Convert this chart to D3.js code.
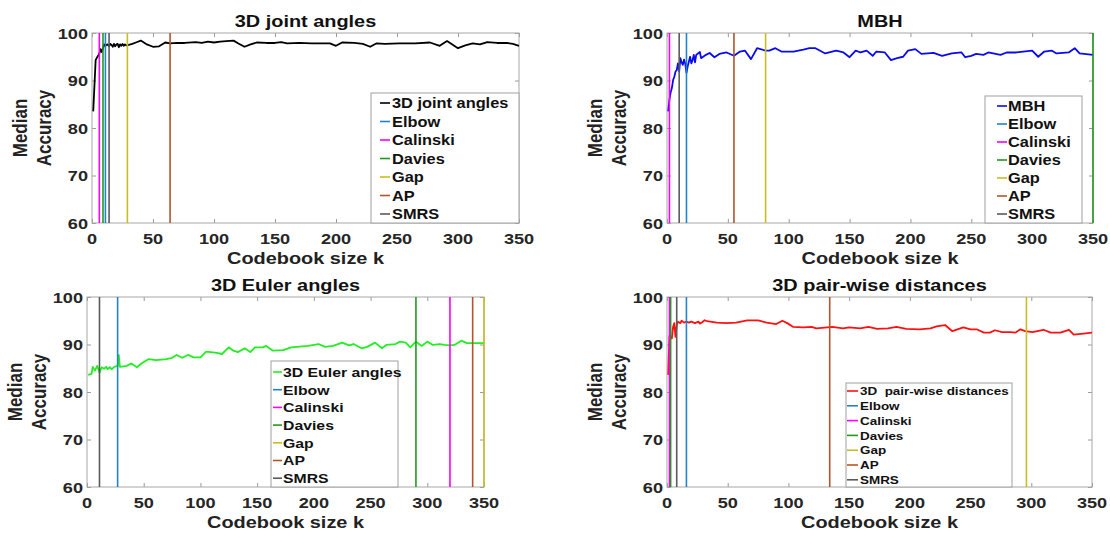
<!DOCTYPE html>
<html><head><meta charset="utf-8">
<script src="https://cdn.jsdelivr.net/npm/d3@7"></script>
<style>body{margin:0;background:#fff}svg{display:block}</style>
</head><body>
<svg id="c" width="1110" height="534"></svg>
<script>
// ---------------- data ----------------
const xTicks = [0, 50, 100, 150, 200, 250, 300, 350];
const yTicks = [60, 70, 80, 90, 100];
const methodNames = ["Elbow", "Calinski", "Davies", "Gap", "AP", "SMRS"];

const jointK = [1,3,4,5,6,7,8,9,10,11,12,13,14,15,16,17,18,19,20,21,22,23,24,25,26,27,28,30,33,36,40,45,50,55,60,64,70,76,85,90,95,100,105,110,116,120,125,130,135,143,150,155,160,170,180,190,195,200,205,215,222,228,233,240,252,265,277,285,291,300,306,312,318,324,332,340,345,350];
const jointAcc = [83.5,94.3,94.8,95.2,95.7,96.6,96.0,96.8,97.6,97.3,97.5,97.6,97.2,97.7,97.5,97.1,97.7,97.2,97.6,97.7,97.0,97.6,97.3,97.7,97.3,97.6,97.4,97.5,97.7,98.0,98.4,97.6,97.1,97.2,98.0,97.8,97.9,97.9,98.1,97.9,98.2,98.0,98.2,98.3,98.4,97.8,97.1,97.6,98.0,97.9,97.9,98.1,97.8,97.9,97.8,97.8,97.8,97.3,98.0,97.9,97.7,97.1,97.8,97.7,97.8,97.8,98.0,97.3,98.3,96.8,97.4,97.8,97.6,98.1,97.9,97.9,97.7,97.3];
const jointMarks = [11, 6, 9, 29, 64, 14];

const mbhK = [1,2,3,4,5,6,7,8,9,10,11,12,13,14,15,16,17,18,19,20,21,22,23,24,26,27,28,32,35,39,43,49,55,60,64,69,74,81,84,89,94,104,112,117,122,130,139,145,150,155,159,164,169,172,179,184,189,194,198,204,209,219,226,234,242,245,250,254,260,264,274,279,287,300,305,310,316,320,330,335,339,350];
const mbhAcc = [83.5,86.0,87.5,88.4,90.1,90.8,91.9,92.2,93.6,91.9,94.7,93.8,93.3,94.4,93.5,91.6,93.0,94.0,95.0,93.6,94.3,95.4,93.8,95.4,95.8,96.0,94.7,95.4,95.8,94.9,95.6,95.9,95.2,96.1,96.3,94.5,96.8,96.3,96.3,96.8,96.1,96.1,96.5,96.8,96.8,95.7,96.3,95.9,94.9,96.3,95.9,96.3,95.2,96.1,95.9,94.3,94.7,95.0,96.3,96.6,95.6,95.8,95.2,95.7,95.9,94.9,95.2,95.6,95.4,95.9,95.4,95.9,95.9,96.3,95.0,96.1,96.3,95.7,95.9,96.8,95.7,95.4];
const mbhMarks = [16, 2, 350, 81, 55, 10];

const eulerK = [1,4,5,7,9,11,13,15,17,18,20,22,24,27,28,29,35,39,44,48,54,61,70,75,79,84,89,94,100,105,113,119,125,129,133,139,144,148,155,158,164,173,180,195,204,210,217,225,231,235,242,247,254,260,264,272,276,281,285,290,295,300,305,311,315,320,324,330,335,341,350];
const eulerAcc = [83.6,83.8,85.3,84.5,85.5,84.1,85.2,84.9,85.3,84.8,85.2,84.8,85.3,85.5,87.8,85.3,85.5,86.0,85.2,86.0,86.9,86.7,86.9,87.2,87.8,87.2,87.8,87.3,87.3,88.5,88.3,88.0,89.4,88.7,88.4,89.2,88.4,89.4,89.4,89.7,88.7,88.8,89.4,89.7,90.1,89.5,89.7,90.4,89.8,90.1,89.2,89.5,90.4,89.2,89.9,90.1,90.6,90.4,89.4,90.6,89.7,90.6,89.9,90.1,89.9,89.8,89.9,90.8,90.3,90.3,90.3];
const eulerMarks = [27, 320, 290, 350, 340, 11];

const pairK = [1,2,3,4,5,6,7,8,9,11,12,14,16,18,20,23,26,27,29,31,33,41,49,57,66,75,82,90,95,99,104,112,119,123,132,136,145,150,159,166,173,182,189,197,208,217,222,229,235,244,250,255,261,266,270,276,283,287,291,295,301,310,316,324,331,335,343,350];
const pairAcc = [83.6,91.8,91.6,91.3,93.7,94.5,91.6,94.0,94.8,94.5,95.0,94.6,94.8,94.6,94.8,94.5,94.8,94.4,94.7,95.1,94.9,94.6,94.5,94.6,95.1,95.1,94.6,94.3,95.0,94.5,93.7,93.6,93.7,93.4,93.6,93.7,93.4,93.6,93.4,93.7,93.3,93.4,93.7,93.3,93.2,93.4,93.8,94.1,92.8,93.6,93.2,93.2,92.5,92.5,93.0,92.6,92.6,92.5,93.2,92.8,92.6,93.1,92.5,92.5,93.1,92.1,92.3,92.5];
const pairMarks = [16, 2, 3, 296, 134, 8];

// ---------------- styling / layout ----------------
const markColors = ["#1f84cc", "#ff00ff", "#1f9a1f", "#c8be24", "#b0562a", "#5a5a5a"];
const SX = 1.17;
const FONT = "'Liberation Sans', Arial, Helvetica, sans-serif";

const panels = [
  {title:"3D joint angles", name:"3D joint angles", color:"#000000", k:jointK, v:jointAcc, marks:jointMarks,
   box:[92,519,33,223], lg:{l:371,r:519,t:93,c0:103,dy:18.5,l0:380,l1:390,tx:392,fs:14}},
  {title:"MBH", name:"MBH", color:"#0a0aee", k:mbhK, v:mbhAcc, marks:mbhMarks,
   box:[667,1093,33,223], lg:{l:985,r:1082,t:96,c0:106,dy:18,l0:997,l1:1007,tx:1008,fs:14}},
  {title:"3D Euler angles", name:"3D Euler angles", color:"#22ee22", k:eulerK, v:eulerAcc, marks:eulerMarks,
   box:[87,484,297,487], lg:{l:271,r:398,t:361,c0:372,dy:17.7,l0:273,l1:282,tx:283,fs:13.5}},
  {title:"3D pair-wise distances", name:"3D  pair-wise distances", color:"#ff1010", k:pairK, v:pairAcc, marks:pairMarks,
   box:[667,1092,297,487], lg:{l:846,r:1012,t:383,c0:391,dy:14.8,l0:847,l1:858,tx:860,fs:11.5}}
];

const svg = d3.select("#c").style("font-family", FONT);

function label(g, x, y, s, size, anchor, rot, fill) {
  g.append("text")
    .attr("transform", `translate(${x},${y}) scale(${SX},1)` + (rot ? " rotate(-90)" : ""))
    .attr("text-anchor", anchor)
    .attr("font-size", size)
    .attr("font-weight", "bold")
    .attr("fill", fill || "#222")
    .style("white-space", "pre")
    .text(s);
}

panels.forEach(p => {
  const [x0, x1, y0, y1] = p.box;
  const g = svg.append("g");
  const x = d3.scaleLinear().domain([0, 350]).range([x0, x1]);
  const y = d3.scaleLinear().domain([60, 100]).range([y1, y0]);

  // frame & inward ticks
  const tickStyle = sel => {
    sel.select(".domain").remove();
    sel.selectAll("line").attr("stroke", "#9a9a9a");
    sel.selectAll("text").remove();
  };
  g.append("g").attr("transform", `translate(0,${y1})`).call(d3.axisBottom(x).tickValues(xTicks).tickSize(-4)).call(tickStyle);
  g.append("g").attr("transform", `translate(0,${y0})`).call(d3.axisTop(x).tickValues(xTicks).tickSize(-4)).call(tickStyle);
  g.append("g").attr("transform", `translate(${x0},0)`).call(d3.axisLeft(y).tickValues(yTicks).tickSize(-4)).call(tickStyle);
  g.append("g").attr("transform", `translate(${x1},0)`).call(d3.axisRight(y).tickValues(yTicks).tickSize(-4)).call(tickStyle);
  g.append("rect").attr("x", x0).attr("y", y0).attr("width", x1 - x0).attr("height", y1 - y0)
    .attr("fill", "none").attr("stroke", "#a8a8a8").attr("stroke-width", 1);

  // tick labels
  xTicks.forEach(t => label(g, x(t), y1 + 21, String(t), 15.5, "middle", false, "#262626"));
  yTicks.forEach(t => label(g, x0 - 4, y(t) + 5.5, String(t), 15.5, "end", false, "#262626"));

  // series line
  const pts = p.k.map((k, i) => [k, p.v[i]]);
  g.append("path").datum(pts)
    .attr("d", d3.line().x(d => x(d[0])).y(d => y(d[1])))
    .attr("fill", "none").attr("stroke", p.color).attr("stroke-width", 1.8).attr("stroke-linejoin", "round");

  // vertical method lines
  p.marks.forEach((m, i) => {
    g.append("line").attr("x1", x(m)).attr("x2", x(m)).attr("y1", y(60)).attr("y2", y(100))
      .attr("stroke", markColors[i]).attr("stroke-width", 1.6);
  });

  // legend
  const L = p.lg;
  g.append("rect").attr("x", L.l).attr("y", L.t).attr("width", L.r - L.l).attr("height", y1 - L.t)
    .attr("fill", "#fff").attr("stroke", "#a0a0a0").attr("stroke-width", 1);
  const entries = [{n: p.name, c: p.color}].concat(methodNames.map((n, i) => ({n, c: markColors[i]})));
  entries.forEach((e, i) => {
    const cy = L.c0 + i * L.dy;
    g.append("line").attr("x1", L.l0).attr("x2", L.l1).attr("y1", cy).attr("y2", cy)
      .attr("stroke", e.c).attr("stroke-width", 1.6);
    label(g, L.tx, cy + L.fs * 0.36, e.n, L.fs, "start", false, "#111");
  });

  // titles and axis labels
  label(g, (x0 + x1) / 2, y0 - 6.5, p.title, 17, "middle", false, "#111");
  label(g, (x0 + x1) / 2, y1 + 41, "Codebook size k", 17, "middle", false, "#222");
  const cy = (y0 + y1) / 2;
  label(g, x0 - 65, cy, "Median", 17, "middle", true, "#222");
  label(g, x0 - 41, cy, "Accuracy", 17, "middle", true, "#222");
});
</script>
</body></html>
